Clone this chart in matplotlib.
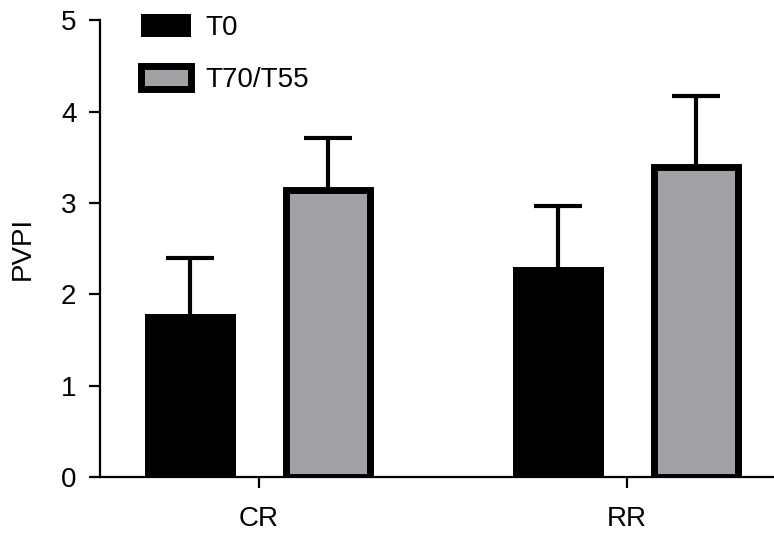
import matplotlib
matplotlib.use("Agg")
import matplotlib.pyplot as plt
import numpy as np

plt.rcParams['font.family'] = ['Liberation Sans', 'DejaVu Sans']

categories = ["CR", "RR"]
series_names = ["T0", "T70/T55"]
t0_means = [1.79, 2.30]
t0_err = [0.61, 0.67]
t70_means = [3.14, 3.40]
t70_err = [0.57, 0.77]
yticks = [0, 1, 2, 3, 4, 5]

W, H = 774, 537
FS = 20
fig = plt.figure(figsize=(W / 100, H / 100), dpi=100)
ax = fig.add_axes([100 / W, 1 - 477 / H, 1 - 100 / W, (477 - 20.5) / H])

x = np.arange(len(categories))
bw = 0.247
off = 0.187
lw_edge = 5.0  # points
lw_px = lw_edge * 100 / 72
spacing_px = 368.0
bw_gray = bw - lw_px / spacing_px

ax.bar(x - off, t0_means, width=bw, color="black", edgecolor="black",
       linewidth=0, label=series_names[0], zorder=2)
ax.bar(x + off, t70_means, width=bw_gray, color="#a1a1a5", edgecolor="black",
       linewidth=lw_edge, label=series_names[1], zorder=2)

ekw = dict(fmt="none", ecolor="black", elinewidth=3.0, capsize=17, capthick=3.0, zorder=1)
for xs, m, e in [(x - off, t0_means, t0_err), (x + off, t70_means, t70_err)]:
    cont = ax.errorbar(xs, m, yerr=[np.zeros(len(e)), e], **ekw)
    caps = cont[1]
    if len(caps) == 2:
        caps[0].set_visible(False)

ax.set_xlim(-0.432, 1.399)
ax.set_ylim(0, 5)
ax.set_yticks(yticks)
ax.set_yticklabels([str(v) for v in yticks])
ax.set_xticks(x)
ax.set_xticklabels(categories)

for s in ["top", "right"]:
    ax.spines[s].set_visible(False)
for s in ["left", "bottom"]:
    ax.spines[s].set_linewidth(1.6)
ax.spines["left"].set_bounds(0, 5)

ax.tick_params(axis="y", direction="out", length=8, width=1.6, labelsize=FS, pad=9)
ax.tick_params(axis="x", direction="out", length=8, width=1.6, labelsize=FS, pad=13)
ax.set_ylabel("PVPI", fontsize=FS, labelpad=18)

leg = fig.legend(loc="upper left", bbox_to_anchor=(140.5 / W, 1 - 14 / H), frameon=False,
                 fontsize=FS, handlelength=1.8, handleheight=0.9, labelspacing=0.9,
                 handletextpad=0.55, borderpad=0, borderaxespad=0)

fig.savefig("out.png", dpi=100)
